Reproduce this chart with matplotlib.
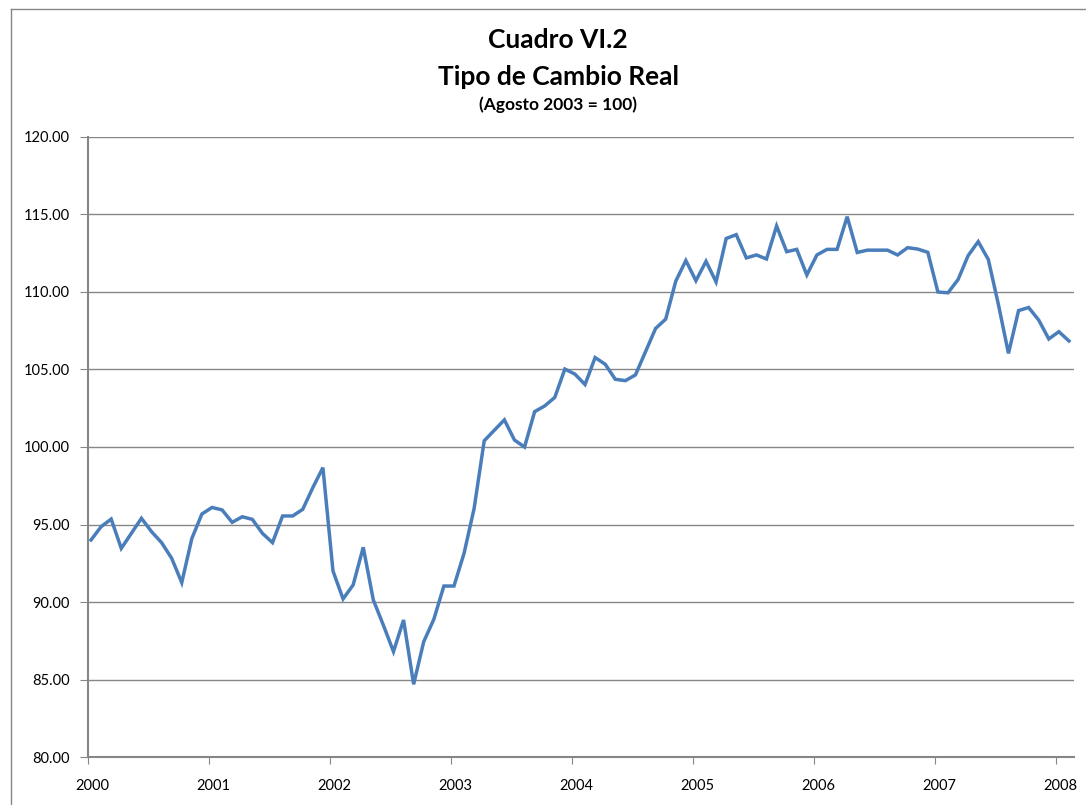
#!/usr/bin/env python3
# -*- coding: utf-8 -*-
import matplotlib
matplotlib.use("Agg")
import matplotlib.pyplot as plt
import numpy as np

# monthly real exchange rate index, Jan 2000 .. Feb 2008 (Agosto 2003 = 100)
tcr = [
    94.0, 94.86, 95.35, 93.46, 94.43, 95.4, 94.54, 93.83, 92.82, 91.25, 94.1, 95.68,
    96.1, 95.94, 95.14, 95.5, 95.33, 94.43, 93.83, 95.55, 95.55, 95.98, 97.38, 98.67,
    92.0, 90.2, 91.1, 93.53, 90.13, 88.5, 86.8, 88.84, 84.69, 87.44, 88.88, 91.03,
    91.03, 93.14, 96.04, 100.4, 101.08, 101.75, 100.45, 100.0, 102.28, 102.65, 103.2, 105.03,
    104.7, 104.03, 105.77, 105.34, 104.37, 104.28, 104.65, 106.15, 107.65, 108.25, 110.7, 112.03,
    110.73, 111.98, 110.65, 113.45, 113.7, 112.2, 112.39, 112.13, 114.26, 112.6, 112.75, 111.1,
    112.39, 112.75, 112.75, 114.86, 112.55, 112.7, 112.7, 112.7, 112.39, 112.86, 112.77, 112.56,
    110.0, 109.95, 110.8, 112.35, 113.25, 112.1, 109.2, 106.04, 108.8, 109.0, 108.19, 106.97,
    107.44, 106.84,
]
years = ["2000", "2001", "2002", "2003", "2004", "2005", "2006", "2007", "2008"]
yticks = [80, 85, 90, 95, 100, 105, 110, 115, 120]

plt.rcParams["font.family"] = ["Lato", "DejaVu Sans"]
gray = "#868686"

fig = plt.figure(figsize=(10.86, 8.05), dpi=100)
ax = fig.add_axes([88 / 1086, 1 - 757 / 805, (1074 - 88) / 1086, (757 - 137) / 805])

x = np.arange(len(tcr))
ax.plot(x, tcr, color="#4a7ebb", linewidth=2.5, solid_joinstyle="miter", zorder=3)

ax.set_ylim(80, 120)
ax.set_xlim(-0.3, 97.5)
ax.set_yticks(yticks)
ax.set_yticklabels(["%.2f" % v for v in yticks], fontsize=10.5)
ax.grid(axis="y", color=gray, linewidth=1)
ax.set_axisbelow(True)

# year ticks sit slightly left of the January points, labels on the points
ax.set_xticks([12 * k - 0.3 for k in range(len(years))])
ax.set_xticklabels([])
ax.set_xticks([12 * k + 0.15 for k in range(len(years))], minor=True)
ax.set_xticklabels(years, minor=True, fontsize=10.5)
ax.tick_params(axis="x", which="major", direction="out", length=5, color=gray)
ax.tick_params(axis="x", which="minor", length=0, pad=16)
ax.tick_params(axis="y", direction="out", length=6, color=gray, pad=7)

for side in ["top", "right"]:
    ax.spines[side].set_visible(False)
for side in ["left", "bottom"]:
    ax.spines[side].set_color(gray)
    ax.spines[side].set_linewidth(1.5)

# chart area border (cut off on the right and bottom)
fig.add_artist(plt.Line2D([11 / 1086, 11 / 1086], [0, 1 - 9 / 805], color=gray, linewidth=1))
fig.add_artist(plt.Line2D([11 / 1086, 1], [1 - 9 / 805, 1 - 9 / 805], color=gray, linewidth=1))

fig.text(558 / 1086, 1 - 40 / 805, "Cuadro VI.2", ha="center", va="center",
         fontsize=19, fontweight="bold")
fig.text(558 / 1086, 1 - 77 / 805, "Tipo de Cambio Real", ha="center", va="center",
         fontsize=19, fontweight="bold")
fig.text(558 / 1086, 1 - 105 / 805, "(Agosto 2003 = 100)", ha="center", va="center",
         fontsize=12.5, fontweight="bold")

fig.savefig("out.png", dpi=100)
